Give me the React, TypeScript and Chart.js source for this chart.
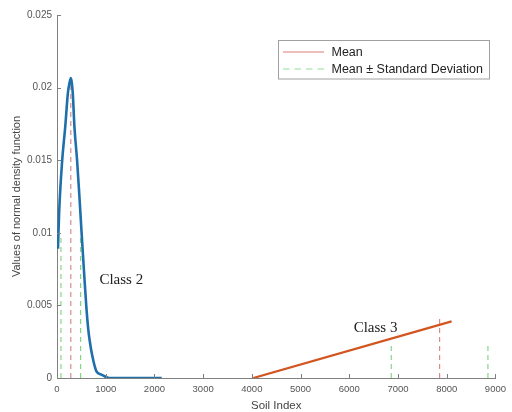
import { useEffect, useRef } from 'react';
import { Chart, registerables } from 'chart.js';

Chart.register(...registerables);

// ---- data ----
const xTickValues = [0, 1000, 2000, 3000, 4000, 5000, 6000, 7000, 8000, 9000];
const xTickLabels = ['0', '1000', '2000', '3000', '4000', '5000', '6000', '7000', '8000', '9000'];
const yTickValues = [0, 0.005, 0.01, 0.015, 0.02, 0.025];
const yTickLabels = ['0', '0.005', '0.01', '0.015', '0.02', '0.025'];

const class2X = [20, 45, 107, 169, 223, 255, 285, 305, 324, 358, 412, 460, 505, 555, 600, 640, 670, 720, 810, 900, 1070, 2150];
const class2Y = [0.0089, 0.0115, 0.015, 0.0173, 0.0196, 0.0203, 0.02065, 0.0203, 0.0196, 0.0173, 0.015, 0.0125, 0.01, 0.0073, 0.005, 0.0034, 0.0026, 0.0016, 0.00045, 0.00025, 0, 0];

const class3X = [4030, 8100];
const class3Y = [0, 0.0039];

const class2Mean = 283;
const class2MeanTop = 0.0205;
const class2Std = [81, 485];
const class2StdTop = [0.0097, 0.0097];

const class3Mean = 7854;
const class3MeanTop = 0.0041;
const class3Std = [6862, 8846];
const class3StdTop = [0.0023, 0.0023];

const classLabels = ['Class 2', 'Class 3'];
const classLabelX = [870, 6090];
const classLabelY = [0.00675, 0.00344];

const legendLabels = ['Mean', 'Mean \u00B1 Standard Deviation'];

// ---- styles ----
const SANS = '"Liberation Sans", Arial, sans-serif';
const SERIF = '"Liberation Serif", "Times New Roman", serif';
const AXIS_COLOR = '#808080';
const TICK_COLOR = '#555555';
const BLUE = '#1f6fab';
const ORANGE = '#d2541e';
const RED_DASH = '#d98a8c';
const GREEN_DASH = '#86d686';

const zip = (xs: number[], ys: number[]) => xs.map((x, i) => ({ x, y: ys[i] }));

const vline = (x: number, top: number, color: string) => ({
  data: [{ x, y: 0 }, { x, y: top }],
  borderColor: color,
  borderWidth: 1.2,
  borderDash: [5, 4],
  pointRadius: 0,
  fill: false,
  tension: 0,
});

const decor = {
  id: 'decor',
  afterDraw(chart: any) {
    const ctx = chart.ctx as CanvasRenderingContext2D;
    const xs = chart.scales.x;
    const ys = chart.scales.y;
    const area = chart.chartArea;
    ctx.save();
    // inward ticks
    ctx.strokeStyle = AXIS_COLOR;
    ctx.lineWidth = 1;
    ctx.beginPath();
    xTickValues.forEach((v) => {
      const px = Math.round(xs.getPixelForValue(v)) + 0.5;
      ctx.moveTo(px, area.bottom);
      ctx.lineTo(px, area.bottom - 4);
    });
    yTickValues.forEach((v) => {
      const py = Math.round(ys.getPixelForValue(v)) + 0.5;
      ctx.moveTo(area.left, py);
      ctx.lineTo(area.left + 4, py);
    });
    ctx.stroke();

    // class labels
    ctx.fillStyle = '#222';
    ctx.font = `15px ${SERIF}`;
    ctx.textAlign = 'left';
    ctx.textBaseline = 'middle';
    classLabels.forEach((t, i) => {
      ctx.fillText(t, xs.getPixelForValue(classLabelX[i]), ys.getPixelForValue(classLabelY[i]));
    });

    // legend
    const bx = 278.5, by = 40.5, bw = 211, bh = 38.5;
    ctx.fillStyle = '#ffffff';
    ctx.fillRect(bx, by, bw, bh);
    ctx.strokeStyle = '#a0a0a0';
    ctx.lineWidth = 1;
    ctx.strokeRect(bx, by, bw, bh);
    const rows = [52, 69];
    ctx.lineWidth = 1.2;
    ctx.strokeStyle = '#e07a7a';
    ctx.setLineDash([]);
    ctx.beginPath();
    ctx.moveTo(283, rows[0]);
    ctx.lineTo(324, rows[0]);
    ctx.stroke();
    ctx.strokeStyle = '#96dc96';
    ctx.setLineDash([6.5, 5]);
    ctx.beginPath();
    ctx.moveTo(283, rows[1]);
    ctx.lineTo(324, rows[1]);
    ctx.stroke();
    ctx.setLineDash([]);
    ctx.fillStyle = '#222';
    ctx.font = `12.5px ${SANS}`;
    ctx.textBaseline = 'middle';
    legendLabels.forEach((t, i) => ctx.fillText(t, 331.5, rows[i] + 0.5));
    ctx.restore();
  },
};

export default function App() {
  const ref = useRef<HTMLCanvasElement>(null);
  useEffect(() => {
    document.body.style.margin = '0';
    const canvas = ref.current!;
    const chart = new Chart(canvas, {
      type: 'line',
      data: {
        datasets: [
          {
            data: zip(class2X, class2Y),
            borderColor: BLUE,
            borderWidth: 2.6,
            pointRadius: 0,
            fill: false,
            cubicInterpolationMode: 'monotone',
          } as any,
          {
            data: zip(class3X, class3Y),
            borderColor: ORANGE,
            borderWidth: 2.2,
            pointRadius: 0,
            fill: false,
          },
          vline(class2Mean, class2MeanTop, RED_DASH),
          vline(class2Std[0], class2StdTop[0], GREEN_DASH),
          vline(class2Std[1], class2StdTop[1], GREEN_DASH),
          vline(class3Mean, class3MeanTop, RED_DASH),
          vline(class3Std[0], class3StdTop[0], GREEN_DASH),
          vline(class3Std[1], class3StdTop[1], GREEN_DASH),
        ],
      },
      options: {
        animation: false,
        responsive: false,
        parsing: false as any,
        layout: { padding: { top: 15, right: 10, left: 0, bottom: 0 } },
        plugins: { legend: { display: false }, tooltip: { enabled: false } },
        scales: {
          x: {
            type: 'linear',
            min: 0,
            max: 9000,
            afterBuildTicks: (s: any) => {
              s.ticks = xTickValues.map((v) => ({ value: v }));
            },
            afterFit: (s: any) => {
              s.height = 34;
            },
            grid: { display: false, drawTicks: false },
            border: { display: true, color: AXIS_COLOR, width: 1 },
            ticks: {
              callback: (_v: any, i: number) => xTickLabels[i],
              font: { family: SANS, size: 9.5 },
              color: TICK_COLOR,
              padding: 6,
              maxRotation: 0,
              autoSkip: false,
            },
            title: {
              display: true,
              text: 'Soil Index',
              font: { family: SANS, size: 11.5, lineHeight: 1 },
              color: '#444',
              padding: { top: 0, bottom: 0 },
            },
          },
          y: {
            type: 'linear',
            min: 0,
            max: 0.025,
            afterBuildTicks: (s: any) => {
              s.ticks = yTickValues.map((v) => ({ value: v }));
            },
            afterFit: (s: any) => {
              s.width = 57;
            },
            grid: { display: false, drawTicks: false },
            border: { display: true, color: AXIS_COLOR, width: 1 },
            ticks: {
              callback: (_v: any, i: number) => yTickLabels[i],
              font: { family: SANS, size: 10 },
              color: TICK_COLOR,
              padding: 5,
              autoSkip: false,
            },
            title: {
              display: true,
              text: 'Values of normal density function',
              font: { family: SANS, size: 11, lineHeight: 1.2 },
              color: '#444',
              padding: { top: 10, bottom: 0 },
            },
          },
        },
      },
      plugins: [decor],
    });
    return () => chart.destroy();
  }, []);
  return (
    <div style={{ position: 'absolute', left: 0, top: 0 }}>
      <canvas ref={ref} width={512} height={412} style={{ display: 'block' }} />
    </div>
  );
}
